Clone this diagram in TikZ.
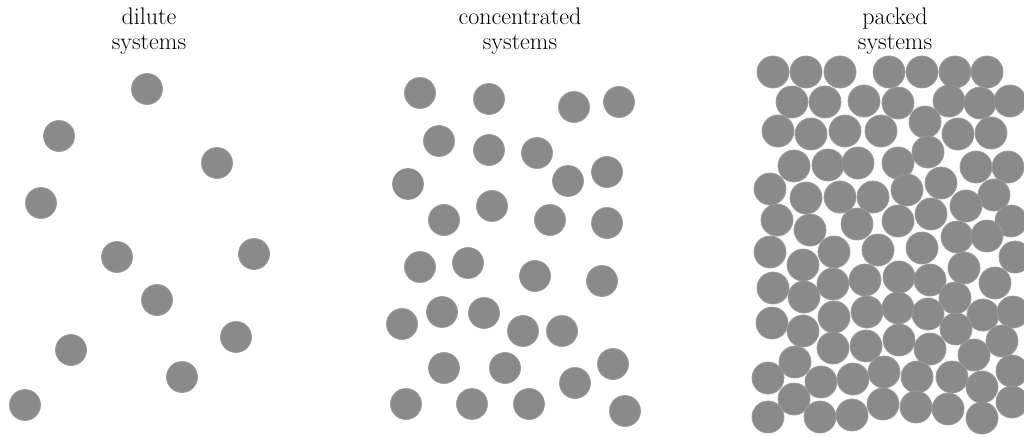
\documentclass[tikz,border=0pt]{standalone}
\usepackage{tikz}
\definecolor{particle}{HTML}{8A8A8A}
\definecolor{particlerim}{HTML}{9C9C9C}

\tikzset{
  title/.style={align=center, anchor=north, inner sep=0pt,
    font=\fontsize{24}{25}\selectfont},
  bead/.style={fill=particle, draw=particlerim, line width=0.8pt}
}

\begin{document}
\begin{tikzpicture}[x=1pt, y=-1pt]
    \useasboundingbox (0,0) rectangle (1024,436);

    % column titles
    \node[title] (dilute) at (149,8) {dilute\\systems};
    \node[title] (conc)   at (520,8) {concentrated\\systems};
    \node[title] (packed) at (895,8) {packed\\systems};

    % dilute
    \foreach \x/\y in {147/89, 59/136, 217/163, 41/203, 117/257, 254/254,
        157/300, 236/337, 71/350, 182/377, 25/405}
      \filldraw[bead] (\x,\y) circle (15.5pt);

    % concentrated
    \foreach \x/\y in {420/93, 489/99, 574/107, 619/102,
        439/141, 489/150, 537/153, 408/184, 568/181, 607/172,
        492/206, 444/220, 550/220, 607/223,
        420/267, 468/263, 535/276, 602/281,
        402/324, 442/312, 484/313, 523/331, 562/331,
        444/368, 505/368, 613/364, 575/383,
        406/404, 472/404, 529/404, 625/411}
      \filldraw[bead] (\x,\y) circle (15.5pt);

    % packed
    \foreach \x/\y in {773/72, 806/72, 840/72, 889/72, 922/72, 955/72, 987/72,
        792/102, 825/102, 864/101, 898/103, 949/101, 980/103, 1010/101,
        778/131, 811/134, 845/131, 881/131, 925/122, 958/134, 991/133,
        794/166, 828/165, 858/163, 898/163, 928/152, 976/167, 1008/167,
        770/189, 806/198, 840/197, 873/197, 907/190, 941/183, 994/195,
        777/220, 810/230, 857/224, 898/221, 931/214, 966/206, 1011/221,
        770/252, 803/265, 834/252, 878/250, 922/248, 957/237, 987/236, 1015/257,
        964/268, 995/283,
        773/288, 804/297, 833/284, 865/280, 899/277, 930/280, 955/298, 983/315, 1013/312,
        772/323, 803/331, 834/317, 867/312, 898/308, 928/314, 956/329, 1002/341,
        833/348, 866/346, 899/340, 930/349, 974/355, 1012/371,
        795/362, 768/378, 821/382, 853/379, 884/372, 917/377, 952/377, 982/387,
        794/399, 883/404, 916/407, 948/409, 1012/402,
        768/417, 820/417, 852/415, 982/418}
      \filldraw[bead] (\x,\y) circle (16pt);
\end{tikzpicture}
\end{document}
